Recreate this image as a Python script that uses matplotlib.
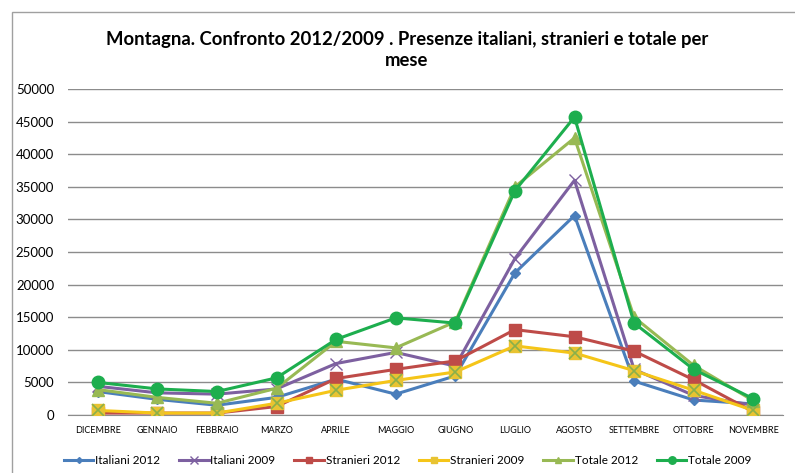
import matplotlib
matplotlib.use("Agg")
import matplotlib.pyplot as plt
from matplotlib.patches import Rectangle

mesi = ['DICEMBRE', 'GENNAIO', 'FEBBRAIO', 'MARZO', 'APRILE', 'MAGGIO',
        'GIUGNO', 'LUGLIO', 'AGOSTO', 'SETTEMBRE', 'OTTOBRE', 'NOVEMBRE']

italiani_2012 = [3600, 2400, 1500, 2700, 5500, 3200, 6000, 21800, 30600, 5200, 2300, 1700]
italiani_2009 = [4400, 3400, 3200, 4000, 7900, 9600, 7500, 24000, 36000, 7000, 3000, 1500]
stranieri_2012 = [300, 300, 300, 1300, 5600, 7000, 8300, 13100, 12000, 9800, 5400, 500]
stranieri_2009 = [700, 300, 300, 1800, 3800, 5300, 6600, 10600, 9500, 6800, 3800, 700]
totale_2012 = [3900, 2700, 1800, 4100, 11300, 10300, 14300, 35000, 42500, 15000, 7600, 2200]
totale_2009 = [5000, 4000, 3600, 5700, 11600, 14900, 14100, 34400, 45700, 14100, 7000, 2500]

plt.rcParams['font.family'] = ['Lato', 'DejaVu Sans']

fig = plt.figure(figsize=(7.95, 4.73), dpi=100)
ax = fig.add_axes([0.0855, 0.1226, 0.8995, 0.6892])

# outer chart border
fig.patches.append(Rectangle((12 / 795, -0.1), 2, (473 - 12) / 473 + 0.1,
                             transform=fig.transFigure, fill=False,
                             edgecolor='#a0a0a0', linewidth=1.0))

x = range(len(mesi))
series = [
    (italiani_2012, 'Italiani 2012', '#4A7EBB', 'D', 5),
    (italiani_2009, 'Italiani 2009', '#7D60A0', 'x', 9),
    (stranieri_2012, 'Stranieri 2012', '#BE4B48', 's', 8),
    (stranieri_2009, 'Stranieri 2009', '#F5C518', 's', 8),
    (totale_2012, 'Totale 2012', '#98B954', '^', 8),
    (totale_2009, 'Totale 2009', '#1DAE4E', 'o', 9),
]
for vals, lab, col, mk, ms in series:
    if lab == 'Stranieri 2009':
        ax.plot(x, vals, color=col, lw=2.2, marker=mk, ms=ms, mfc='#E8C332',
                mec='#E8C332', label=lab, zorder=3)
        ax.plot(x, vals, color='none', marker='x', ms=8, mec='#8AB04A',
                mew=1.2, zorder=4)
    elif lab == 'Italiani 2009':
        ax.plot(x, vals, color=col, lw=2.2, marker=mk, ms=ms, mew=1.0,
                label=lab, zorder=3)
    else:
        ax.plot(x, vals, color=col, lw=2.2, marker=mk, ms=ms, label=lab,
                zorder=3)

ax.set_xlim(-0.5, 11.5)
ax.set_ylim(0, 50000)
ax.set_yticks(range(0, 50001, 5000))
ax.set_xticks(list(x))
ax.set_xticklabels(mesi, fontsize=6.5)
ax.tick_params(axis='y', labelsize=9.5, length=0, pad=10)
ax.tick_params(axis='x', length=0, pad=8)
ax.grid(axis='y', color='#8c8c8c', linewidth=1.0)
ax.set_axisbelow(True)
for s in ['top', 'right', 'left']:
    ax.spines[s].set_visible(False)
ax.spines['bottom'].set_color('#8c8c8c')

fig.text(0.512, 0.895,
         'Montagna. Confronto 2012/2009 . Presenze italiani, stranieri e totale per\nmese',
         ha='center', va='center', fontsize=13.3, fontweight='bold',
         linespacing=1.3)

ax.legend(loc='upper center', bbox_to_anchor=(0.475, -0.09), ncol=6,
          frameon=False, fontsize=8.5, handlelength=2.5, handletextpad=0.15,
          columnspacing=1.6, markerscale=0.6)

fig.savefig('out.png', dpi=100)
